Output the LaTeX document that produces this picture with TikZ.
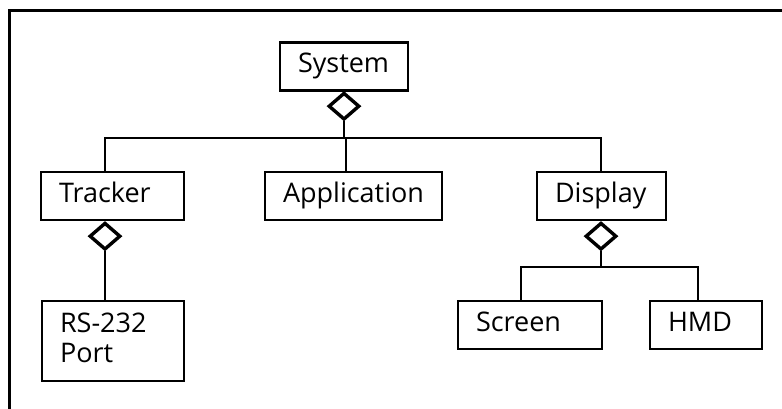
\documentclass[tikz,border=0pt]{standalone}
\usepackage{fontspec}
\setmainfont{Open Sans}
\usetikzlibrary{shapes.geometric}

\tikzset{
  box/.style={draw, line width=2.8pt, inner xsep=18pt, inner ysep=0pt, align=left,
    font=\fontsize{27}{30}\selectfont, text height=19pt, text depth=6pt},
  agg/.style={draw, diamond, line width=3.4pt, inner sep=0pt,
    minimum width=31pt, minimum height=27pt},
  link/.style={line width=2.5pt},
  frame/.style={line width=3pt}
}

\begin{document}
\begin{tikzpicture}[x=1pt, y=1pt]
  \useasboundingbox (0,0) rectangle (782,409);

  % outer frame (top and left edges)
  \coordinate (ftr) at (782,398);
  \coordinate (ftl) at (9,398);
  \coordinate (fbl) at (9,0);
  \draw[frame] (ftr) -- (ftl) -- (fbl);

  % classes
  \node[box, text width=92pt,  minimum height=48pt] (sys) at (344,342.5) {System};
  \node[box, text width=107pt, minimum height=48pt] (trk) at (112.5,213) {Tracker};
  \node[box, text width=141pt, minimum height=48pt] (app) at (353.5,213) {Application};
  \node[box, text width=93pt,  minimum height=48pt] (dsp) at (601.5,213) {Display};
  \node[box, text width=106pt, minimum height=80pt, text depth=36pt] (rs) at (113,68) {RS-232\\Port};
  \node[box, text width=108pt, minimum height=48pt] (scr) at (530,84)    {Screen};
  \node[box, text width=76pt,  minimum height=48pt] (hmd) at (706,84)    {HMD};

  % aggregation diamonds
  \node[agg, anchor=north] (dsys) at (344,318) {};
  \node[agg, anchor=north] (dtrk) at (105,188) {};
  \node[agg, anchor=north] (ddsp) at (601,188) {};

  % junctions
  \coordinate (j0) at (344,271);
  \coordinate (j1) at (601,142);

  % System aggregates Tracker, Application, Display
  \draw[link] (dsys.south) -- (j0);
  \draw[link] (trk.north -| dtrk.center) |- (j0) -| (dsp.north -| ddsp.center);
  \draw[link] ([xshift=-7.5pt]app.north) -- ([xshift=-7.5pt]app.north |- j0);

  % Tracker aggregates RS-232 Port
  \draw[link] (dtrk.south) -- (dtrk.south |- rs.north);

  % Display aggregates Screen and HMD
  \draw[link] (ddsp.south) -- (j1);
  \draw[link] ([xshift=-9pt]scr.north) |- (j1) -| ([xshift=-8pt]hmd.north);
\end{tikzpicture}
\end{document}
